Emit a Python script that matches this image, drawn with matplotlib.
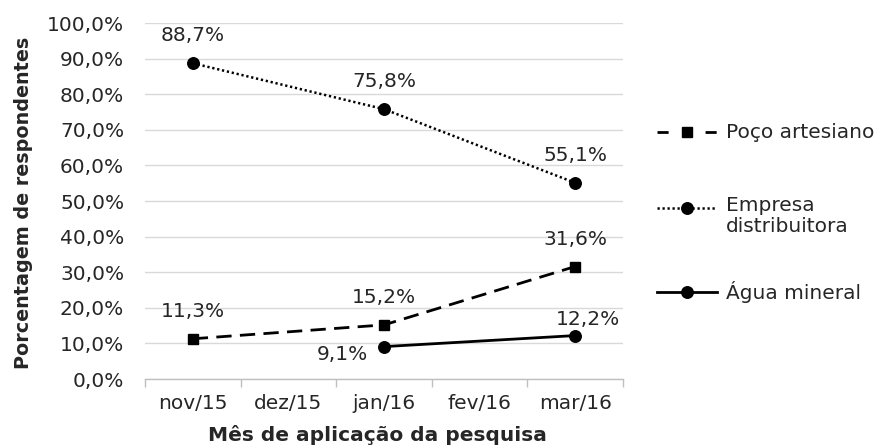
import numpy as np
import matplotlib
matplotlib.use("Agg")
import matplotlib.pyplot as plt
from matplotlib.lines import Line2D
from matplotlib.ticker import FixedLocator, FuncFormatter

# Survey months (x axis categories)
categories = ["nov/15", "dez/15", "jan/16", "fev/16", "mar/16"]

# Percentage of respondents per water source
poco_months = ["nov/15", "jan/16", "mar/16"]
poco_values = [11.3, 15.2, 31.6]

empresa_months = ["nov/15", "jan/16", "mar/16"]
empresa_values = [88.7, 75.8, 55.1]

agua_months = ["jan/16", "mar/16"]
agua_values = [9.1, 12.2]

series_names = ["Poço artesiano", "Empresa\ndistribuitora", "Água mineral"]

y_ticks = [0, 10, 20, 30, 40, 50, 60, 70, 80, 90, 100]

TEXT = "#262626"
FONT = "DejaVu Sans"
FS = 14.5

plt.rcParams["font.family"] = [FONT]

W, H = 885, 448
fig = plt.figure(figsize=(W / 100, H / 100), dpi=100)
ax = fig.add_axes([145 / W, 1 - 379 / H, 478 / W, 356 / H])


def pct(v):
    return f"{v:.1f}%".replace(".", ",")


def xpos(months):
    return [categories.index(m) for m in months]


# Series styles
poco_style = dict(color="black", lw=2.0, dashes=(5.5, 3.0),
                  marker="s", markersize=7.5, dash_capstyle="butt")
empresa_style = dict(color="black", lw=1.8, dashes=(0.9, 1.1),
                     marker="o", markersize=8.3)
agua_style = dict(color="black", lw=2.0, linestyle="-",
                  marker="o", markersize=8.3)

ax.plot(xpos(poco_months), poco_values, **poco_style)
ax.plot(xpos(empresa_months), empresa_values, **empresa_style)
ax.plot(xpos(agua_months), agua_values, **agua_style)

# Value labels (offsets in points)
label_kw = dict(textcoords="offset points", fontsize=FS, color=TEXT,
                ha="center", va="center")
for x, v in zip(xpos(empresa_months), empresa_values):
    ax.annotate(pct(v), (x, v), xytext=(0, 20), **label_kw)
for x, v in zip(xpos(poco_months), poco_values):
    ax.annotate(pct(v), (x, v), xytext=(0, 19.5), **label_kw)
agua_offsets = [(-30, -6), (9, 11.5)]
for (x, v), off in zip(zip(xpos(agua_months), agua_values), agua_offsets):
    ax.annotate(pct(v), (x, v), xytext=off, **label_kw)

# Axes styling
ax.set_xlim(-0.5, len(categories) - 0.5)
ax.set_ylim(0, 100)
ax.set_yticks(y_ticks)
ax.yaxis.set_major_formatter(FuncFormatter(lambda v, _: pct(v)))
ax.set_xticks(range(len(categories)))
ax.set_xticklabels(categories)
ax.xaxis.set_minor_locator(FixedLocator(np.arange(-0.5, len(categories), 1.0)))
ax.tick_params(axis="x", which="major", length=0, pad=11, labelsize=FS,
               labelcolor=TEXT)
ax.tick_params(axis="x", which="minor", length=6, width=1, color="#bfbfbf",
               direction="out")
ax.tick_params(axis="y", length=0, pad=15, labelsize=FS, labelcolor=TEXT)

ax.grid(axis="y", color="#d9d9d9", lw=1)
ax.set_axisbelow(True)
for s in ("left", "right", "top"):
    ax.spines[s].set_visible(False)
ax.spines["bottom"].set_color("#bfbfbf")
ax.spines["bottom"].set_linewidth(1)
ax.spines["bottom"].set_zorder(0.5)

ax.set_xlabel("Mês de aplicação da pesquisa", fontsize=FS, fontweight="bold",
              color=TEXT, va="center", ha="center")
ax.xaxis.set_label_coords((377.5 - 145) / 478, (379 - 435) / 356)
ax.set_ylabel("Porcentagem de respondentes", fontsize=13.8, fontweight="bold",
              color=TEXT, va="center", ha="center")
ax.yaxis.set_label_coords((23 - 145) / 478, (379 - 203) / 356)

# Legend drawn beside the plot area
handle_dashes = [(4.0, 13.3), (0.9, 1.1), None]
styles = [poco_style, empresa_style, agua_style]
rows_y = [132, 208, 292]
for name, st, dsh, yy in zip(series_names, styles, handle_dashes, rows_y):
    y_f = 1 - yy / H
    line_kw = {k: v for k, v in st.items()
               if k not in ("marker", "markersize", "dashes")}
    if dsh is not None:
        line_kw["dashes"] = dsh
    fig.add_artist(Line2D([657 / W, 717 / W], [y_f, y_f],
                          transform=fig.transFigure, **line_kw))
    fig.add_artist(Line2D([687 / W], [y_f], transform=fig.transFigure,
                          color="black", linestyle="none",
                          marker=st["marker"], markersize=st["markersize"]))
    if "\n" in name:
        fig.text(726 / W, 1 - (yy - 12) / H, name, fontsize=FS, color=TEXT,
                 ha="left", va="top", linespacing=1.15)
    else:
        fig.text(726 / W, y_f, name, fontsize=FS, color=TEXT, ha="left",
                 va="center")

fig.savefig("out.png", dpi=100)
